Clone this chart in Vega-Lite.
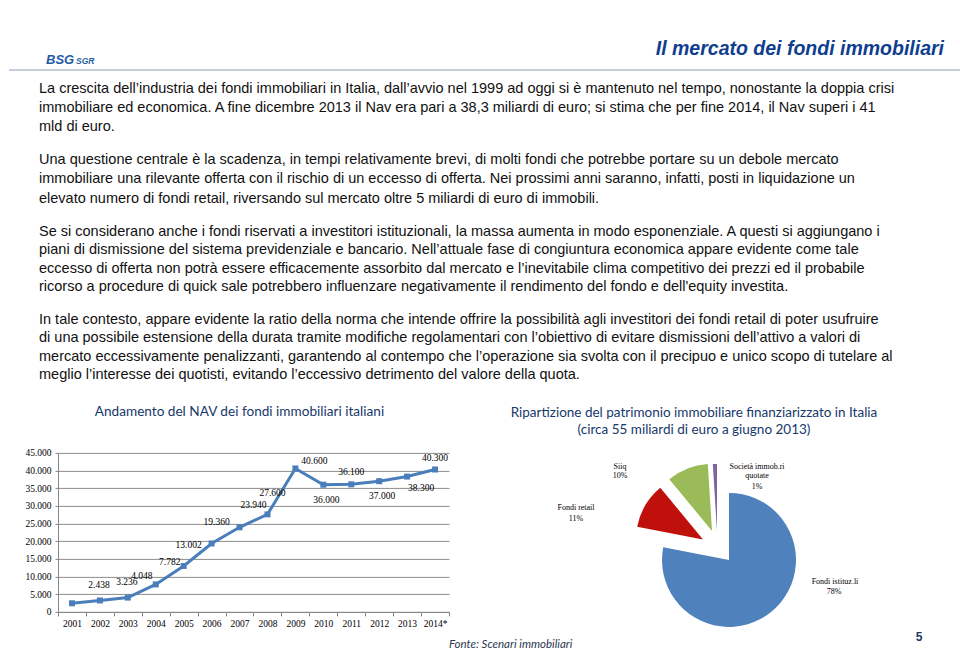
{
  "$schema": "https://vega.github.io/schema/vega-lite/v6.json",
  "background": "white",
  "padding": {"left": 8, "top": 0, "right": 0, "bottom": 0},
  "config": {
    "view": {"stroke": null},
    "font": "Liberation Sans",
    "locale": {"number": {"decimal": ",", "thousands": ".", "grouping": [3], "currency": ["€", ""]}}
  },
  "spacing": 8.5,
  "vconcat": [
    {
      "width": 903,
      "height": 70,
      "layer": [
        {
          "data": {"values": [{"page_title": "Il mercato dei fondi immobiliari"}]},
          "mark": {"type": "text", "align": "right", "baseline": "alphabetic", "dx": -17, "dy": -15, "font": "Liberation Sans", "fontSize": 19.5, "fontWeight": "bold", "fontStyle": "italic", "color": "#0f3e8f"},
          "encoding": {"x": {"value": "width"}, "y": {"value": "height"}, "text": {"field": "page_title"}}
        },
        {
          "data": {"values": [{"brand": "BSG", "unit": "SGR"}]},
          "layer": [
            {
              "mark": {"type": "text", "align": "left", "baseline": "alphabetic", "dx": -12, "dy": -6, "fontSize": 13, "fontWeight": "bold", "fontStyle": "italic", "color": "#1f5ba6"},
              "encoding": {"x": {"value": 0}, "y": {"value": "height"}, "text": {"field": "brand"}}
            },
            {
              "mark": {"type": "text", "align": "left", "baseline": "alphabetic", "dx": 18, "dy": -6, "fontSize": 8.5, "fontWeight": "bold", "fontStyle": "italic", "color": "#1f5ba6"},
              "encoding": {"x": {"value": 0}, "y": {"value": "height"}, "text": {"field": "unit"}}
            }
          ]
        },
        {
          "data": {"values": [{"edge": "bottom"}]},
          "mark": {"type": "rule", "color": "#c5d0dc", "strokeWidth": 2, "xOffset": -49},
          "encoding": {"x": {"value": 0}, "x2": {"value": "width"}, "y": {"value": "height"}}
        }
      ]
    },
    {
      "spacing": 20.4,
      "vconcat": [
        {
          "spacing": 14,
          "vconcat": [
            {
              "width": 870,
              "height": {"step": 19},
              "data": {"values": [
                {"line": 1, "text": "La crescita dell’industria dei fondi immobiliari in Italia, dall’avvio nel 1999 ad oggi si è mantenuto nel tempo, nonostante la doppia crisi"},
                {"line": 2, "text": "immobiliare ed economica. A fine dicembre 2013 il Nav era pari a 38,3 miliardi di euro; si stima che per fine 2014, il Nav superi i 41"},
                {"line": 3, "text": "mld di euro."}
              ]},
              "mark": {"type": "text", "align": "left", "baseline": "middle", "dx": -19, "fontSize": 14.5, "color": "#111111"},
              "encoding": {"x": {"value": 0}, "y": {"field": "line", "type": "ordinal", "axis": null}, "text": {"field": "text"}}
            },
            {
              "width": 870,
              "height": {"step": 19.2},
              "data": {"values": [
                {"line": 1, "text": "Una questione centrale è la scadenza, in tempi relativamente brevi, di molti fondi che potrebbe portare su un debole mercato"},
                {"line": 2, "text": "immobiliare una rilevante offerta con il rischio di un eccesso di offerta. Nei prossimi anni saranno, infatti, posti in liquidazione un"},
                {"line": 3, "text": "elevato numero di fondi retail, riversando sul mercato oltre 5 miliardi di euro di immobili."}
              ]},
              "mark": {"type": "text", "align": "left", "baseline": "middle", "dx": -19, "fontSize": 14.5, "color": "#111111"},
              "encoding": {"x": {"value": 0}, "y": {"field": "line", "type": "ordinal", "axis": null}, "text": {"field": "text"}}
            },
            {
              "width": 870,
              "height": {"step": 18.4},
              "data": {"values": [
                {"line": 1, "text": "Se si considerano anche i fondi riservati a investitori istituzionali, la massa aumenta in modo esponenziale. A questi si aggiungano i"},
                {"line": 2, "text": "piani di dismissione del sistema previdenziale e bancario. Nell’attuale fase di congiuntura economica appare evidente come tale"},
                {"line": 3, "text": "eccesso di offerta non potrà essere efficacemente assorbito dal mercato e l’inevitabile clima competitivo dei prezzi ed il probabile"},
                {"line": 4, "text": "ricorso a procedure di quick sale potrebbero influenzare negativamente il rendimento del fondo e dell'equity investita."}
              ]},
              "mark": {"type": "text", "align": "left", "baseline": "middle", "dx": -19, "fontSize": 14.5, "color": "#111111"},
              "encoding": {"x": {"value": 0}, "y": {"field": "line", "type": "ordinal", "axis": null}, "text": {"field": "text"}}
            },
            {
              "width": 870,
              "height": {"step": 18.4},
              "data": {"values": [
                {"line": 1, "text": "In tale contesto, appare evidente la ratio della norma che intende offrire la possibilità agli investitori  dei fondi retail di poter usufruire"},
                {"line": 2, "text": "di una possibile estensione della durata tramite modifiche regolamentari con l’obiettivo di evitare dismissioni dell’attivo a valori di"},
                {"line": 3, "text": "mercato eccessivamente penalizzanti, garantendo al contempo che l’operazione sia svolta con il precipuo e unico scopo di tutelare al"},
                {"line": 4, "text": "meglio l’interesse dei quotisti, evitando l’eccessivo detrimento del valore della quota."}
              ]},
              "mark": {"type": "text", "align": "left", "baseline": "middle", "dx": -19, "fontSize": 14.5, "color": "#111111"},
              "encoding": {"x": {"value": 0}, "y": {"field": "line", "type": "ordinal", "axis": null}, "text": {"field": "text"}}
            }
          ]
        },
        {
          "spacing": 2.5,
          "vconcat": [
            {
              "bounds": "flush",
              "spacing": 50,
              "hconcat": [
                {
                  "width": 391,
                  "height": 159,
                  "title": {"text": "Andamento del NAV dei fondi immobiliari italiani", "font": "Lato", "fontSize": 13.6, "fontWeight": "normal", "color": "#17386b", "anchor": "middle", "dx": -14, "offset": 29},
                  "data": {"values": [
                    {"year": "2001", "nav": 2438},
                    {"year": "2002", "nav": 3236},
                    {"year": "2003", "nav": 4048},
                    {"year": "2004", "nav": 7782},
                    {"year": "2005", "nav": 13002},
                    {"year": "2006", "nav": 19360},
                    {"year": "2007", "nav": 23940},
                    {"year": "2008", "nav": 27600},
                    {"year": "2009", "nav": 40600},
                    {"year": "2010", "nav": 36000},
                    {"year": "2011", "nav": 36100},
                    {"year": "2012", "nav": 37000},
                    {"year": "2013", "nav": 38300},
                    {"year": "2014*", "nav": 40300}
                  ]},
                  "encoding": {
                    "x": {"field": "year", "type": "ordinal", "sort": null, "scale": {"type": "band", "paddingInner": 0, "paddingOuter": 0},
                      "axis": {"title": null, "labelAngle": 0, "tickBand": "extent", "domainColor": "#868686", "tickColor": "#868686", "tickSize": 4, "labelFont": "Liberation Serif", "labelFontSize": 9.5, "labelColor": "#000000", "labelPadding": 3, "grid": false}},
                    "y": {"field": "nav", "type": "quantitative", "scale": {"domain": [0, 45000], "nice": false},
                      "axis": {"title": null, "tickCount": 10, "format": ",d", "domainColor": "#868686", "tickColor": "#868686", "tickSize": 3, "labelFont": "Liberation Serif", "labelFontSize": 9.5, "labelColor": "#000000", "labelPadding": 4, "gridColor": "#8c8c8c", "gridWidth": 1, "gridOpacity": 1}}
                  },
                  "layer": [
                    {"mark": {"type": "line", "color": "#4a7ebb", "strokeWidth": 3}},
                    {"mark": {"type": "point", "shape": "square", "filled": true, "size": 36, "color": "#4a7ebb", "opacity": 1}},
                    {"transform": [{"filter": {"field": "year", "oneOf": ["2001", "2002"]}}],
                     "mark": {"type": "text", "font": "Liberation Serif", "fontSize": 9.5, "color": "#000000", "dx": 27, "dy": -18},
                     "encoding": {"text": {"field": "nav", "type": "quantitative", "format": ",d"}}},
                    {"transform": [{"filter": {"field": "year", "oneOf": ["2003", "2004", "2007"]}}],
                     "mark": {"type": "text", "font": "Liberation Serif", "fontSize": 9.5, "color": "#000000", "dx": 14, "dy": -22},
                     "encoding": {"text": {"field": "nav", "type": "quantitative", "format": ",d"}}},
                    {"transform": [{"filter": {"field": "year", "oneOf": ["2005", "2006", "2008"]}}],
                     "mark": {"type": "text", "font": "Liberation Serif", "fontSize": 9.5, "color": "#000000", "dx": 5, "dy": -21},
                     "encoding": {"text": {"field": "nav", "type": "quantitative", "format": ",d"}}},
                    {"transform": [{"filter": {"field": "year", "oneOf": ["2009"]}}],
                     "mark": {"type": "text", "font": "Liberation Serif", "fontSize": 9.5, "color": "#000000", "dx": 19, "dy": -7},
                     "encoding": {"text": {"field": "nav", "type": "quantitative", "format": ",d"}}},
                    {"transform": [{"filter": {"field": "year", "oneOf": ["2010", "2012"]}}],
                     "mark": {"type": "text", "font": "Liberation Serif", "fontSize": 9.5, "color": "#000000", "dx": 3, "dy": 15},
                     "encoding": {"text": {"field": "nav", "type": "quantitative", "format": ",d"}}},
                    {"transform": [{"filter": {"field": "year", "oneOf": ["2013"]}}],
                     "mark": {"type": "text", "font": "Liberation Serif", "fontSize": 9.5, "color": "#000000", "dx": 14, "dy": 11},
                     "encoding": {"text": {"field": "nav", "type": "quantitative", "format": ",d"}}},
                    {"transform": [{"filter": {"field": "year", "oneOf": ["2011", "2014*"]}}],
                     "mark": {"type": "text", "font": "Liberation Serif", "fontSize": 9.5, "color": "#000000", "dx": 0, "dy": -12},
                     "encoding": {"text": {"field": "nav", "type": "quantitative", "format": ",d"}}}
                  ]
                },
                {
                  "width": 460,
                  "height": 159,
                  "title": {"text": ["Ripartizione del patrimonio immobiliare finanziarizzato in Italia", "(circa 55 miliardi di euro a giugno 2013)"], "font": "Lato", "fontSize": 13.5, "fontWeight": "normal", "lineHeight": 16.6, "color": "#17386b", "anchor": "middle", "dx": -35, "offset": 16.4},
                  "data": {"values": [
                    {"cat": "Fondi istituz.li", "share": 0.78},
                    {"cat": "Fondi retail", "share": 0.11},
                    {"cat": "Siiq", "share": 0.10},
                    {"cat": "Società immob.ri\nquotate", "share": 0.01}
                  ]},
                  "transform": [{"stack": "share", "groupby": [], "sort": [{"field": "share", "order": "descending"}], "as": ["s0", "s1"]}],
                  "encoding": {
                    "theta": {"field": "s0", "type": "quantitative", "scale": {"domain": [0, 1]}},
                    "theta2": {"field": "s1"},
                    "color": {"field": "cat", "type": "nominal", "legend": null,
                      "scale": {"domain": ["Fondi istituz.li", "Fondi retail", "Siiq", "Società immob.ri\nquotate"], "range": ["#4f81bd", "#c0100c", "#9bbb59", "#8064a2"]}}
                  },
                  "layer": [
                    {"transform": [{"filter": {"field": "cat", "equal": "Fondi istituz.li"}}],
                     "layer": [
                       {"mark": {"type": "arc", "radius": 67, "xOffset": 0, "yOffset": 27.5}},
                       {"mark": {"type": "text", "font": "Liberation Serif", "fontSize": 8, "color": "#000000", "dx": 106, "dy": 49.5}, "encoding": {"theta": null, "theta2": null, "color": null, "text": {"field": "cat"}}},
                       {"mark": {"type": "text", "font": "Liberation Serif", "fontSize": 8, "color": "#000000", "dx": 105, "dy": 59.5}, "encoding": {"theta": null, "theta2": null, "color": null, "text": {"field": "share", "type": "quantitative", "format": ".0%"}}}
                     ]},
                    {"transform": [{"filter": {"field": "cat", "equal": "Fondi retail"}}],
                     "layer": [
                       {"mark": {"type": "arc", "radius": 67, "xOffset": -26, "yOffset": 7}},
                       {"mark": {"type": "text", "font": "Liberation Serif", "fontSize": 8, "color": "#000000", "dx": -153, "dy": -24.5}, "encoding": {"theta": null, "theta2": null, "color": null, "text": {"field": "cat"}}},
                       {"mark": {"type": "text", "font": "Liberation Serif", "fontSize": 8, "color": "#000000", "dx": -153, "dy": -13.5}, "encoding": {"theta": null, "theta2": null, "color": null, "text": {"field": "share", "type": "quantitative", "format": ".0%"}}}
                     ]},
                    {"transform": [{"filter": {"field": "cat", "equal": "Siiq"}}],
                     "layer": [
                       {"mark": {"type": "arc", "radius": 67, "xOffset": -17, "yOffset": -1.5}},
                       {"mark": {"type": "text", "font": "Liberation Serif", "fontSize": 8, "color": "#000000", "dx": -109, "dy": -65}, "encoding": {"theta": null, "theta2": null, "color": null, "text": {"field": "cat"}}},
                       {"mark": {"type": "text", "font": "Liberation Serif", "fontSize": 8, "color": "#000000", "dx": -109, "dy": -56}, "encoding": {"theta": null, "theta2": null, "color": null, "text": {"field": "share", "type": "quantitative", "format": ".0%"}}}
                     ]},
                    {"transform": [{"filter": {"field": "cat", "equal": "Società immob.ri\nquotate"}}],
                     "layer": [
                       {"mark": {"type": "arc", "radius": 67, "xOffset": -12, "yOffset": -1.5}},
                       {"mark": {"type": "text", "font": "Liberation Serif", "fontSize": 8, "lineBreak": "\n", "lineHeight": 9.5, "color": "#000000", "dx": 28, "dy": -65.5}, "encoding": {"theta": null, "theta2": null, "color": null, "text": {"field": "cat"}}},
                       {"mark": {"type": "text", "font": "Liberation Serif", "fontSize": 8, "color": "#000000", "dx": 28, "dy": -45.5}, "encoding": {"theta": null, "theta2": null, "color": null, "text": {"field": "share", "type": "quantitative", "format": ".0%"}}}
                     ]}
                  ]
                }
              ]
            },
            {
              "width": 903,
              "height": 20,
              "layer": [
                {
                  "data": {"values": [{"source": "Fonte: Scenari immobiliari"}]},
                  "mark": {"type": "text", "align": "left", "dx": 391, "dy": 3, "font": "Lato", "fontStyle": "italic", "fontSize": 11.5, "color": "#2b3850"},
                  "encoding": {"x": {"value": 0}, "text": {"field": "source"}}
                },
                {
                  "data": {"values": [{"page": 5}]},
                  "mark": {"type": "text", "align": "center", "dx": -42, "dy": -5, "fontSize": 12, "fontWeight": "bold", "color": "#1f3a5f"},
                  "encoding": {"x": {"value": "width"}, "text": {"field": "page"}}
                }
              ]
            }
          ]
        }
      ]
    }
  ]
}
